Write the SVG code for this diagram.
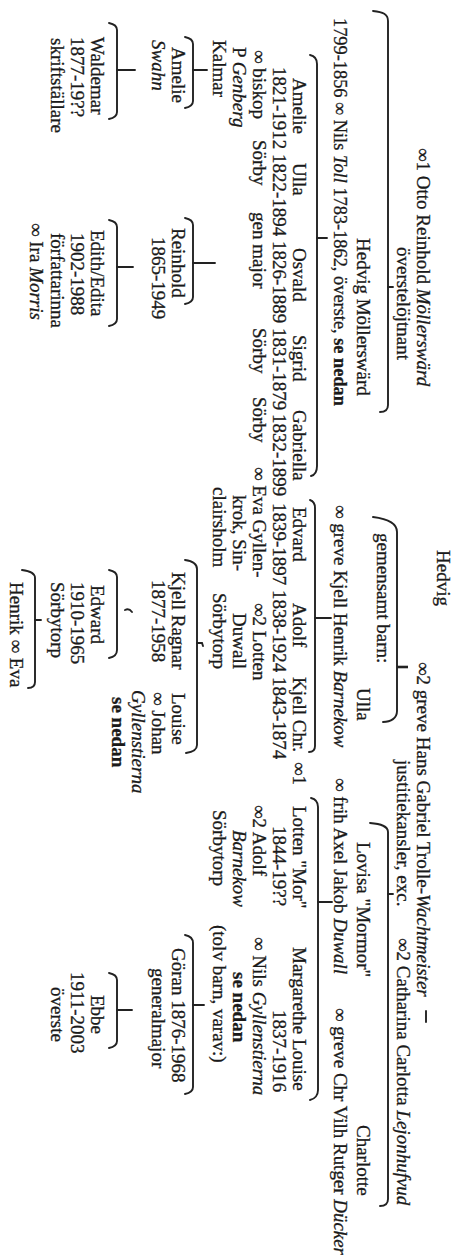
<svg xmlns="http://www.w3.org/2000/svg" width="461" height="1258" viewBox="0 0 461 1258">
<style>
.t{font-family:"Liberation Serif","Times New Roman",serif;font-size:19px;fill:#1a1a1a;stroke:#1a1a1a;stroke-width:0.3}
.i{font-style:italic}
.b{font-weight:bold}
.br{fill:none;stroke:#222;stroke-width:1.9;stroke-linecap:round}
.tk{fill:none;stroke:#222;stroke-width:2.6}
</style>
<rect width="461" height="1258" fill="#fff"/>
<g transform="translate(461 0) rotate(90)">
<g id="connectors">
<path class="br" d="M11,88 C12,78 14,73 21,73 L405,73 C410,73 412,76 412,81"/>
<path class="br" d="M287,73 L287,68"/>
<path class="br" d="M55,151 C56,146 59,144 64,144 L466,144 C471,144 475,146 476,150"/>
<path class="br" d="M238,144 L238,134"/>
<path class="br" d="M517,88 C519,72 524,64 532,64 L711,64 C718,64 722,70 722,78"/>
<path class="tk" d="M667,64 L667,53"/>
<path class="br" d="M823,91 C824,80 826,73 832,73 L1199,73 C1204,73 1206,76 1206,81"/>
<path class="br" d="M894,73 L894,68"/>
<path class="br" d="M500,151 C501,148 503,146 508,146 L746,146 C750,146 752,148 752,152"/>
<path class="br" d="M618,146 L618,130"/>
<path class="br" d="M798,150 C799,146 802,143 807,143 L1090,143 C1095,143 1099,146 1100,151"/>
<path class="br" d="M902,143 L902,129"/>
<path class="br" d="M37,276 C38,271 40,268 44,268 L101,268 C105,268 107,271 108,276"/>
<path class="br" d="M70,268 L70,254"/>
<path class="br" d="M23,352 C24,347 26,344 30,344 L112,344 C116,344 118,347 119,352"/>
<path class="br" d="M70,344 L70,326"/>
<path class="br" d="M218,276 C219,271 221,268 225,268 L297,268 C301,268 303,271 304,276"/>
<path class="br" d="M263,268 L263,246"/>
<path class="br" d="M220,352 C221,347 223,344 227,344 L319,344 C323,344 325,347 326,352"/>
<path class="br" d="M267,344 L267,328"/>
<path class="br" d="M560,276 C561,269 564,264 569,264 L745,264 C750,264 752,268 753,275"/>
<path class="br" d="M643,264 L643,259 L646,258"/>
<path class="br" d="M570,352 C571,347 573,344 577,344 L650,344 C655,344 657,347 658,352"/>
<path class="br" d="M612,329 Q608,332 610,336"/>
<path class="br" d="M570,439 C571,431 573,426 578,426 L682,426 C686,426 688,429 688,433"/>
<path class="br" d="M620,426 L620,420"/>
<path class="br" d="M935,276 C936,271 938,268 943,268 L1087,268 C1091,268 1093,271 1094,276"/>
<path class="br" d="M1005,268 L1005,257"/>
<path class="br" d="M973,352 C974,347 976,344 980,344 L1041,344 C1045,344 1047,347 1048,352"/>
<path class="br" d="M1010,344 L1010,329"/>
<path class="br" d="M1011,35 L1022,35"/>
</g>
<g id="hedvig" class="t"><text x="550" y="24">Hedvig</text></g>
<g id="otto" class="t"><text x="148" y="44">∞1 Otto Reinhold <tspan class="i">Möllerswärd</tspan></text><text x="247" y="64">överstelöjtnant</text></g>
<g id="hans-gabriel" class="t"><text x="662" y="44">∞2 greve Hans Gabriel Trolle-<tspan class="i">Wachtmeister</tspan></text><text x="760" y="64">justitiekansler, exc.</text></g>
<g id="catharina" class="t"><text x="938" y="64">∞2 Catharina Carlotta <tspan class="i">Lejonhufvud</tspan></text></g>
<g id="hedvig-mollersward" class="t"><text x="238" y="104">Hedvig Möllerswärd</text><text x="18" y="127" textLength="388" lengthAdjust="spacingAndGlyphs">1799-1856 ∞ Nils <tspan class="i">Toll</tspan> 1783-1862, överste, <tspan class="b">se nedan</tspan></text></g>
<g id="gemensamt" class="t"><text x="533" y="84">gemensamt barn:</text></g>
<g id="ulla-tw" class="t"><text x="688" y="104">Ulla</text><text x="505" y="127">∞ greve Kjell Henrik <tspan class="i">Barnekow</tspan></text></g>
<g id="lovisa" class="t"><text x="842" y="104">Lovisa "Mormor"</text><text x="778" y="127">∞ frih Axel Jakob <tspan class="i">Duwall</tspan></text></g>
<g id="charlotte" class="t"><text x="1125" y="104">Charlotte</text><text x="1008" y="127" textLength="247" lengthAdjust="spacingAndGlyphs">∞ greve Chr Vilh Rutger <tspan class="i">Dücker</tspan></text></g>
<g id="amelie" class="t"><text x="78" y="168">Amelie</text><text x="67" y="188">1821-1912</text><text x="50" y="208">∞ biskop</text><text x="47" y="228">P <tspan class="i">Genberg</tspan></text><text x="40" y="248">Kalmar</text></g>
<g id="ulla-toll" class="t"><text x="163" y="168">Ulla</text><text x="154" y="188">1822-1894</text><text x="140" y="208">Sörby</text></g>
<g id="osvald" class="t"><text x="248" y="168">Osvald</text><text x="241" y="188">1826-1889</text><text x="212" y="208">gen major</text></g>
<g id="sigrid" class="t"><text x="335" y="168">Sigrid</text><text x="328" y="188">1831-1879</text><text x="328" y="208">Sörby</text></g>
<g id="gabriella" class="t"><text x="410" y="168">Gabriella</text><text x="414" y="188">1832-1899</text><text x="397" y="208">Sörby</text></g>
<g id="amelie-swahn" class="t"><text x="47" y="289">Amelie</text><text x="40" y="309" class="i">Swahn</text></g>
<g id="waldemar" class="t"><text x="37" y="370">Waldemar</text><text x="37" y="390">1877-19??</text><text x="38" y="410">skriftställare</text></g>
<g id="reinhold" class="t"><text x="228" y="289">Reinhold</text><text x="237" y="309">1865-1949</text></g>
<g id="edith" class="t"><text x="230" y="370">Edith/Edita</text><text x="233" y="390">1902-1988</text><text x="233" y="410">författarinna</text><text x="223" y="431">∞ Ira <tspan class="i">Morris</tspan></text></g>
<g id="edvard" class="t"><text x="507" y="168">Edvard</text><text x="503" y="188">1839-1897</text><text x="467" y="208">∞ Eva Gyllen-</text><text x="495" y="228">krok, Sin-</text><text x="487" y="248">clairsholm</text></g>
<g id="adolf" class="t"><text x="603" y="168">Adolf</text><text x="590" y="188">1838-1924</text><text x="603" y="208">∞2 Lotten</text><text x="613" y="228">Duwall</text><text x="593" y="248">Sörbytorp</text></g>
<g id="kjell-chr" class="t"><text x="677" y="168">Kjell Chr.</text><text x="677" y="188">1843-1874</text><text x="762" y="168">∞1</text></g>
<g id="lotten" class="t"><text x="806" y="168">Lotten "Mor"</text><text x="826" y="188">1844-19??</text><text x="805" y="208">∞2 Adolf</text><text x="830" y="228" class="i">Barnekow</text><text x="810" y="248">Sörbytorp</text></g>
<g id="margarethe" class="t"><text x="947" y="168">Margarethe Louise</text><text x="1010" y="188">1837-1916</text><text x="937" y="208">∞ Nils <tspan class="i">Gyllenstierna</tspan></text><text x="972" y="228" class="b">se nedan</text><text x="925" y="248">(tolv barn, varav:)</text></g>
<g id="kjell-ragnar" class="t"><text x="572" y="289">Kjell Ragnar</text><text x="580" y="309">1877-1958</text></g>
<g id="louise" class="t"><text x="693" y="289">Louise</text><text x="692" y="309">∞ Johan</text><text x="690" y="329" class="i">Gyllenstierna</text><text x="697" y="349" class="b">se nedan</text></g>
<g id="edward" class="t"><text x="585" y="370">Edward</text><text x="582" y="390">1910-1965</text><text x="582" y="410">Sörbytorp</text></g>
<g id="henrik" class="t"><text x="582" y="451">Henrik ∞ Eva</text></g>
<g id="goran" class="t"><text x="948" y="289">Göran 1876-1968</text><text x="968" y="309">generalmajor</text></g>
<g id="ebbe" class="t"><text x="995" y="370">Ebbe</text><text x="972" y="390">1911-2003</text><text x="987" y="410">överste</text></g>
</g>
</svg>
